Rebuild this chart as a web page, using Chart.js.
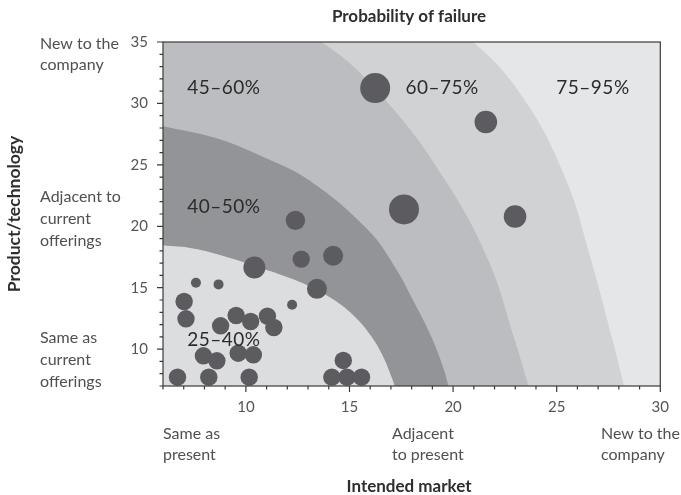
<!DOCTYPE html>
<html>
<head>
<meta charset="utf-8">
<script src="https://cdn.jsdelivr.net/npm/chart.js@4.4.1/dist/chart.umd.min.js"></script>
<style>
  html, body { margin: 0; padding: 0; background: #fff; }
  #wrap { width: 681px; height: 495px; }
</style>
</head>
<body>
<div id="wrap"><canvas id="riskChart" width="681" height="495"></canvas></div>
<script>
// Projects: intended market (x) vs product/technology (y), bubble radius in px
const projectX = [16.24, 21.58, 17.63, 22.99, 12.39, 12.67, 14.21, 10.41, 13.43, 7.59,
                  8.68, 12.23, 7.02, 7.11, 9.53, 10.23, 11.04, 11.35, 8.78, 7.95,
                  8.60, 9.63, 10.36, 6.70, 8.21, 10.16, 14.15, 14.88, 15.58, 14.70];
const projectY = [31.25, 28.49, 21.37, 20.80, 20.48, 17.33, 17.60, 16.65, 14.91, 15.40,
                  15.27, 13.61, 13.88, 12.47, 12.74, 12.25, 12.69, 11.76, 11.90, 9.46,
                  9.05, 9.67, 9.54, 7.72, 7.72, 7.72, 7.72, 7.72, 7.72, 9.08];
const projectR = [15, 11.3, 15, 11.3, 9.7, 8.7, 10, 11, 10, 5,
                  5, 5, 8.7, 8.7, 8.7, 8.7, 8.7, 8.7, 8.7, 8.7,
                  8.7, 8.7, 8.7, 8.7, 8.7, 8.7, 8.7, 8.7, 8.7, 8.7];

// Outer edges of the probability bands
// (the two outer arcs continue a little above the plot top, where they are clipped)
const band1X = [6, 7.45, 9.0, 10.65, 12.55, 14.15, 15.27, 16.07, 16.63, 17.03, 17.19];
const band1Y = [18.45, 18.2, 17.55, 16.65, 15.5, 14.12, 12.62, 11.0, 9.37, 7.74, 7];
const band2X = [6, 8.5, 10.7, 13.05, 15.91, 17.19, 18.15, 18.95, 19.51, 19.78];
const band2Y = [28.14, 27.2, 25.75, 23.75, 19.68, 16.69, 13.71, 11.0, 8.56, 7];
const band3X = [6, 10, 13.64, 16.74, 19.62, 21.7, 22.98, 23.64];
const band3Y = [39.5, 37.6, 35, 30.26, 23.75, 17.24, 10.73, 7];
const band4X = [6, 14, 18.5, 20.96, 23.46, 25.46, 26.66, 27.7, 28.25];
const band4Y = [41.5, 39, 37.3, 35, 30.26, 23.75, 17.24, 10.73, 7];

const bandLabels = ['25–40%', '40–50%', '45–60%', '60–75%', '75–95%'];
const bandLabelX = [7.17, 7.17, 7.17, 17.7, 24.98];
const bandLabelY = [10.73, 21.6, 31.26, 31.26, 31.26];

const xTickLabels = [10, 15, 20, 25, 30];
const yTickLabels = [10, 15, 20, 25, 30, 35];

const bandColors = ['#dcdddf', '#939497', '#bcbdc0', '#d1d2d4'];
const outerColor = '#e5e6e8';
const bubbleColor = '#5c5c60';

const zip = (xs, ys) => xs.map((x, i) => ({ x: x, y: ys[i] }));

function bandDataset(xs, ys, color, order) {
    return {
        type: 'line',
        data: zip(xs, ys),
        borderWidth: 0,
        borderColor: color,
        backgroundColor: color,
        pointRadius: 0,
        tension: 0.4,
        fill: 'start',
        order: order
    };
}

Chart.defaults.font.family = 'Lato, "Open Sans", sans-serif';
Chart.defaults.color = '#555';

const decorations = {
    id: 'decorations',
    beforeDatasetsDraw(chart) {
        const { ctx, chartArea: a } = chart;
        ctx.save();
        ctx.fillStyle = outerColor;
        ctx.fillRect(a.left, a.top, a.right - a.left, a.bottom - a.top);
        ctx.restore();
    },
    afterDatasetsDraw(chart) {
        const { ctx, chartArea: a } = chart;
        const xs = chart.scales.x, ys = chart.scales.y;
        ctx.save();
        ctx.strokeStyle = '#3a3a3a';
        ctx.lineWidth = 1.2;
        ctx.strokeRect(a.left, a.top, a.right - a.left, a.bottom - a.top);
        ctx.beginPath();
        xs.ticks.forEach(t => {
            const px = xs.getPixelForValue(t.value);
            const len = t.value % 5 === 0 ? 6 : 3.5;
            ctx.moveTo(px, a.bottom);
            ctx.lineTo(px, a.bottom + len);
        });
        ys.ticks.forEach(t => {
            const py = ys.getPixelForValue(t.value);
            const len = t.value % 5 === 0 ? 6 : 3.5;
            ctx.moveTo(a.left, py);
            ctx.lineTo(a.left - len, py);
        });
        ctx.stroke();

        // band labels
        ctx.fillStyle = '#2b2b2b';
        ctx.font = '19px Lato, "Open Sans", sans-serif';
        ctx.letterSpacing = '0.5px';
        ctx.textBaseline = 'middle';
        ctx.textAlign = 'left';
        bandLabels.forEach((txt, i) => {
            ctx.fillText(txt, xs.getPixelForValue(bandLabelX[i]), ys.getPixelForValue(bandLabelY[i]));
        });
        ctx.restore();
    },
    afterDraw(chart) {
        const ctx = chart.ctx;
        ctx.save();
        ctx.fillStyle = '#2e2e2e';
        ctx.font = 'bold 17px Lato, "Open Sans", sans-serif';
        ctx.textAlign = 'center';
        ctx.textBaseline = 'middle';
        ctx.fillText('Probability of failure', 409, 17);
        ctx.fillText('Intended market', 409, 487);
        ctx.save();
        ctx.translate(14, 214);
        ctx.rotate(-Math.PI / 2);
        ctx.font = 'bold 17.5px Lato, "Open Sans", sans-serif';
        ctx.fillText('Product/technology', 0, 0);
        ctx.restore();

        ctx.fillStyle = '#505050';
        ctx.font = '16px Lato, "Open Sans", sans-serif';
        ctx.textAlign = 'left';
        const lines = [
            ['New to the', 40, 44], ['company', 40, 65],
            ['Adjacent to', 40, 197], ['current', 40, 219], ['offerings', 40, 241],
            ['Same as', 40, 338], ['current', 40, 360], ['offerings', 40, 382],
            ['Same as', 163, 434], ['present', 163, 455],
            ['Adjacent', 392, 434], ['to present', 392, 455],
            ['New to the', 601, 434], ['company', 601, 455]
        ];
        lines.forEach(l => ctx.fillText(l[0], l[1], l[2]));
        ctx.restore();
    }
};

new Chart(document.getElementById('riskChart'), {
    type: 'bubble',
    data: {
        datasets: [
            {
                data: projectX.map((x, i) => ({ x: x, y: projectY[i], r: projectR[i] })),
                backgroundColor: bubbleColor,
                borderWidth: 0,
                order: 0
            },
            bandDataset(band1X, band1Y, bandColors[0], 1),
            bandDataset(band2X, band2Y, bandColors[1], 2),
            bandDataset(band3X, band3Y, bandColors[2], 3),
            bandDataset(band4X, band4Y, bandColors[3], 4)
        ]
    },
    options: {
        responsive: false,
        animation: false,
        layout: { padding: { left: 0, top: 42, right: 18, bottom: 0 } },
        elements: { line: { capBezierPoints: false } },
        plugins: {
            legend: { display: false },
            tooltip: { enabled: false }
        },
        scales: {
            x: {
                type: 'linear',
                min: 6,
                max: 30,
                afterFit: (scale) => { scale.height = 109; },
                grid: { display: false, drawTicks: false },
                border: { display: false },
                ticks: {
                    stepSize: 1,
                    autoSkip: false,
                    maxRotation: 0,
                    padding: 12,
                    font: { size: 15 },
                    callback: (v) => xTickLabels.includes(v) ? String(v) : ''
                }
            },
            y: {
                type: 'linear',
                min: 7,
                max: 35,
                afterFit: (scale) => { scale.width = 163; },
                grid: { display: false, drawTicks: false },
                border: { display: false },
                ticks: {
                    stepSize: 1,
                    autoSkip: false,
                    padding: 15,
                    font: { size: 15 },
                    callback: (v) => yTickLabels.includes(v) ? String(v) : ''
                }
            }
        }
    },
    plugins: [decorations]
});
</script>
</body>
</html>
